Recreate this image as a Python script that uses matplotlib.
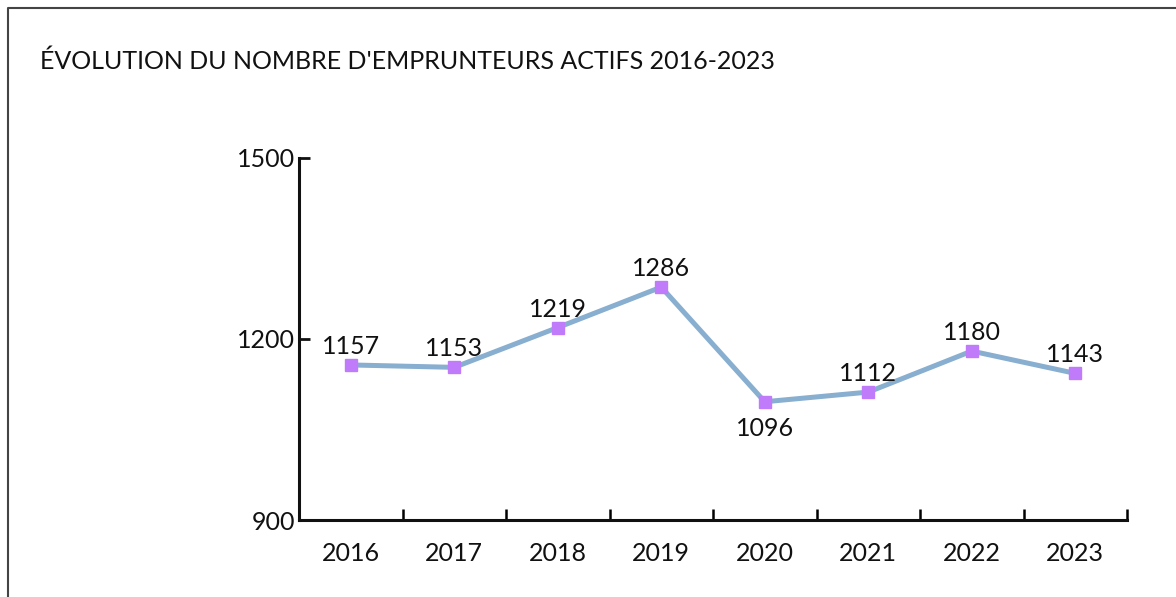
import matplotlib.pyplot as plt
from matplotlib.lines import Line2D
import numpy as np

years = ['2016', '2017', '2018', '2019', '2020', '2021', '2022', '2023']
borrowers = [1157, 1153, 1219, 1286, 1096, 1112, 1180, 1143]
label_pos = ['above', 'above', 'above', 'above', 'below', 'above', 'above', 'above']
yticks = [900, 1200, 1500]

plt.rcParams['font.family'] = ['Lato', 'DejaVu Sans']

W, H = 1176, 597
fig = plt.figure(figsize=(W / 100, H / 100), dpi=100)

# frame around the chart (top + left only visible)
fig.add_artist(Line2D([8 / W, 8 / W, 1.0], [0.0, 1 - 8 / H, 1 - 8 / H],
                      transform=fig.transFigure, color='#444444', lw=1.5))

fig.text(40 / W, 1 - 61 / H, "ÉVOLUTION DU NOMBRE D'EMPRUNTEURS ACTIFS 2016-2023",
         fontsize=18, va='center', ha='left', color='#111111')

ax = fig.add_axes([299 / W, 1 - 520 / H, (1127 - 299) / W, (520 - 158) / H])
x = np.arange(len(years))
ax.plot(x, borrowers, color='#88AED0', lw=3.6, zorder=2)
ax.plot(x, borrowers, ls='none', marker='s', ms=8.5, color='#BF7BFA', zorder=3)

for xi, v, pos in zip(x, borrowers, label_pos):
    if pos == 'above':
        ax.annotate(str(v), (xi, v), xytext=(0, 5), textcoords='offset points',
                    ha='center', va='bottom', fontsize=18, color='#111111')
    else:
        ax.annotate(str(v), (xi, v), xytext=(0, -11), textcoords='offset points',
                    ha='center', va='top', fontsize=18, color='#111111')

ax.set_xlim(-0.5, len(years) - 0.5)
ax.set_ylim(900, 1500)

ax.set_yticks(yticks)
ax.set_yticklabels([str(t) for t in yticks], fontsize=18)
ax.tick_params(axis='y', direction='in', length=8, width=2, pad=3, colors='#111111')

# ticks at category boundaries, labels at centers
ax.set_xticks(x + 0.5)
ax.set_xticks(x, minor=True)
ax.set_xticklabels([''] * len(years))
ax.set_xticklabels(years, minor=True, fontsize=18)
ax.tick_params(axis='x', which='major', direction='in', length=8, width=1.8)
ax.tick_params(axis='x', which='minor', length=0, pad=16, colors='#111111')

for s in ['top', 'right']:
    ax.spines[s].set_visible(False)
for s in ['left', 'bottom']:
    ax.spines[s].set_linewidth(2.2)
    ax.spines[s].set_color('#111111')

fig.savefig('out.png', dpi=100)
